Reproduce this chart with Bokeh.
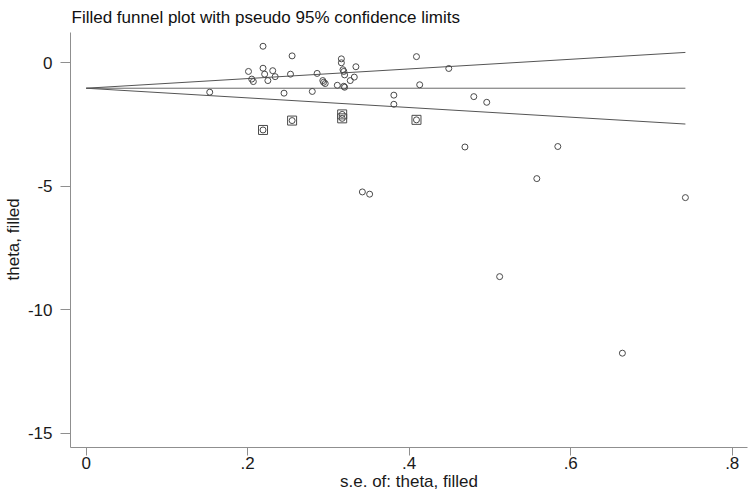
from bokeh.plotting import figure
from bokeh.models import Range1d, FixedTicker, Label, Title
from bokeh.embed import file_html
from bokeh.resources import INLINE

# observed studies (standard error, effect)
se_obs = [0.153, 0.201, 0.205, 0.207, 0.219, 0.219, 0.221, 0.225, 0.231, 0.234,
          0.245, 0.253, 0.255, 0.280, 0.286, 0.293, 0.294, 0.296, 0.311, 0.316,
          0.316, 0.318, 0.319, 0.320, 0.319, 0.320, 0.327, 0.332, 0.334, 0.381,
          0.381, 0.409, 0.413, 0.449, 0.480, 0.496, 0.469, 0.584, 0.558, 0.342,
          0.351, 0.512, 0.742, 0.664]
theta_obs = [-1.19, -0.35, -0.66, -0.76, 0.67, -0.22, -0.46, -0.72, -0.32, -0.56,
             -1.23, -0.46, 0.28, -1.16, -0.43, -0.72, -0.79, -0.84, -0.91, 0.16,
             0.00, -0.28, -0.35, -0.49, -0.95, -0.99, -0.72, -0.58, -0.16, -1.31,
             -1.68, 0.25, -0.89, -0.23, -1.37, -1.60, -3.41, -3.39, -4.69, -5.23,
             -5.32, -8.66, -5.46, -11.76]

# filled (imputed) studies
se_fill = [0.219, 0.255, 0.317, 0.317, 0.409]
theta_fill = [-2.72, -2.34, -2.09, -2.25, -2.31]

# pseudo 95% confidence limits
se_line = [0.0, 0.742]
center_line = [-1.03, -1.03]
upper_line = [-1.03, 0.42]
lower_line = [-1.03, -2.48]

x_ticks = [0, 0.2, 0.4, 0.6, 0.8]
x_tick_labels = ["0", ".2", ".4", ".6", ".8"]
y_ticks = [0, -5, -10, -15]
y_tick_labels = ["0", "-5", "-10", "-15"]

title_text = "Filled funnel plot with pseudo 95% confidence limits"
x_title = "s.e. of: theta, filled"
y_title = "theta, filled"

FONT = "Liberation Sans"
Y_AXIS_TOP = 1.227
Y_AXIS_BOTTOM = -15.58

p = figure(width=751, height=494, output_backend="svg", toolbar_location=None,
           x_range=Range1d(-0.0194, 0.8189), y_range=Range1d(Y_AXIS_BOTTOM, 2.523),
           min_border_left=70, min_border_right=4, min_border_top=0,
           min_border_bottom=47)
p.outline_line_color = None
p.xgrid.visible = False
p.ygrid.visible = False
p.background_fill_color = "white"
p.border_fill_color = "white"

for ax, ticks, labels, tout, stand in (
        (p.xaxis[0], x_ticks, x_tick_labels, 8, 1),
        (p.yaxis[0], y_ticks, y_tick_labels, 10, 8)):
    ax.ticker = FixedTicker(ticks=ticks)
    ax.major_label_overrides = {t: l for t, l in zip(ticks, labels)}
    ax.minor_tick_line_color = None
    ax.major_tick_in = 0
    ax.major_tick_out = tout
    ax.major_label_standoff = stand
    ax.axis_line_color = "#8f8f8f"
    ax.major_tick_line_color = "#8f8f8f"
    ax.major_label_text_font = FONT
    ax.major_label_text_font_size = "17px"
    ax.major_label_text_color = "#1a1a1a"
p.yaxis[0].major_label_orientation = "horizontal"
p.yaxis[0].bounds = (Y_AXIS_BOTTOM, Y_AXIS_TOP)

xa = p.xaxis[0]
xa.axis_label = x_title
xa.axis_label_standoff = 0
xa.axis_label_text_font = FONT
xa.axis_label_text_font_size = "17px"
xa.axis_label_text_font_style = "normal"
xa.axis_label_text_color = "#1a1a1a"

p.add_layout(Title(text=y_title, align="left", offset=167, vertical_align="top",
                   standoff=0, text_font=FONT, text_font_size="17px",
                   text_font_style="normal", text_color="#1a1a1a"), "left")

p.line(se_line, center_line, line_color="#6a6a6a", line_width=1)
p.line(se_line, upper_line, line_color="#555555", line_width=1)
p.line(se_line, lower_line, line_color="#555555", line_width=1)

p.scatter(se_obs, theta_obs, marker="circle", size=6, fill_color=None,
          line_color="#4a4a4a", line_width=1)
p.scatter(se_fill, theta_fill, marker="circle", size=6, fill_color=None,
          line_color="#4a4a4a", line_width=1)
p.scatter(se_fill, theta_fill, marker="square", size=9, fill_color=None,
          line_color="#4a4a4a", line_width=1)

p.add_layout(Label(x=1, y=430, x_units="screen", y_units="screen",
                   text=title_text, text_font=FONT, text_font_size="17px",
                   text_color="#111111", text_baseline="alphabetic",
                   text_align="left"))

open("out.html", "w").write(file_html(p, INLINE))
